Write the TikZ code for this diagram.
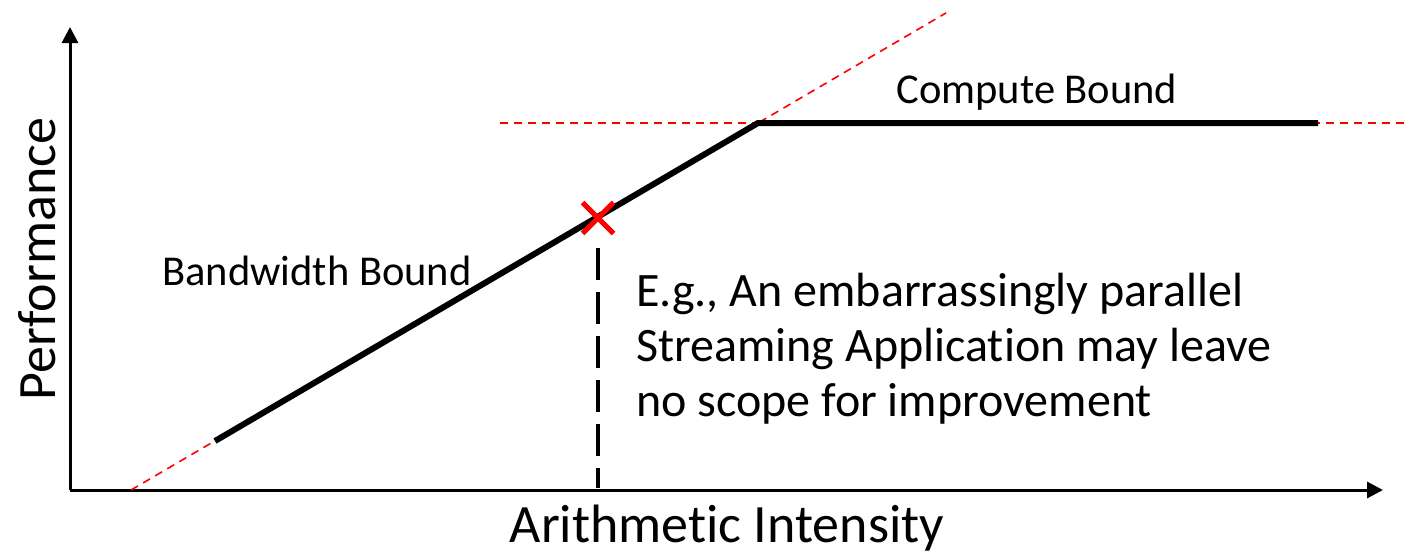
\documentclass[tikz,border=0pt]{standalone}
\usepackage{fontspec}
\setmainfont{Carlito}[Ligatures=NoCommon]
\usetikzlibrary{arrows.meta,shapes.misc,calc}
\begin{document}
\begin{tikzpicture}[x=1pt,y=-1pt,
  axis/.style={line width=3pt,-{Triangle[length=16pt,width=16pt]}},
  roof/.style={line width=6pt},
  guide/.style={red,line width=1.6pt,dash pattern=on 8pt off 6pt},
  drop/.style={line width=4pt,dash pattern=on 32pt off 12pt},
  lbl/.style={inner sep=0pt,font=\fontsize{42.5}{50}\selectfont}]
\useasboundingbox (0,0) rectangle (1406,554);
\coordinate (O) at (70,490);
\coordinate (ytip) at (70,27);
\coordinate (xtip) at (1383,490);
\coordinate (g0) at (131,490);
\coordinate (knee) at (758,123);
\coordinate (g1) at ($(g0)!1.3!(knee)$);
\coordinate (b0) at (215,441);
\coordinate (c1) at (1318,123);
\coordinate (h0) at (500,123);
\coordinate (h1) at (1406,123);
\coordinate (pt) at (598,218);
\coordinate (dtop) at (598,248);
\coordinate (ptb) at (598,488);
\draw[axis] (O) -- (ytip);
\draw[axis] (O) -- (xtip);
\draw[guide] (g0) -- (g1);
\draw[guide] (h0) -- (h1);
\draw[roof] (b0) -- (knee) -- (c1);
\draw[drop] (dtop) -- (ptb);
\node[red,line width=5pt,draw,cross out,minimum size=26pt,inner sep=0pt] (xm) at (pt) {};
\node[lbl,font=\fontsize{54}{60}\selectfont,rotate=90] (ylab) at (37,259) {Performance};
\node[lbl,font=\fontsize{54}{60}\selectfont] (xlab) at (727,528) {Arithmetic Intensity};
\node[lbl] (cb) at (1037,92) {Compute Bound};
\node[lbl] (bb) at (317,271) {Bandwidth Bound};
\node[lbl,font=\fontsize{48}{55}\selectfont,align=left,anchor=west] (note) at (636,349) {E.g., An embarrassingly parallel\\Streaming Application may leave\\no scope for improvement};
\end{tikzpicture}
\end{document}
